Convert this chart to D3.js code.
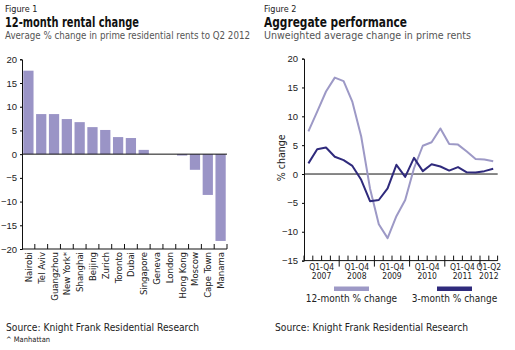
<!DOCTYPE html>
<html>
<head>
<meta charset="utf-8">
<script src="https://cdn.jsdelivr.net/npm/d3@7"></script>
<style>
  body { margin: 0; background: #fff; }
  svg { font-family: "DejaVu Sans Condensed", "Liberation Sans", sans-serif; }
</style>
</head>
<body>
<div id="chart-area"></div>
<script>
// DATA
// ****

let cities = ["Nairobi", "Tel Aviv", "Guangzhou", "New York*", "Shanghai", "Beijing", "Zurich", "Toronto",
  "Dubai", "Singapore", "Geneva", "London", "Hong Kong", "Moscow", "Cape Town", "Manama"]
let rentalChange = [17.6, 8.45, 8.45, 7.4, 6.75, 5.7, 5.1, 3.6, 3.4, 0.9, 0, 0, -0.3, -3.3, -8.6, -18.3]
let leftTicks = [20, 15, 10, 5, 0, -5, -10, -15, -20]

let quarters = d3.range(22)
let years = ["2007", "2008", "2009", "2010", "2011", "2012"]
let yearRanges = ["Q1-Q4", "Q1-Q4", "Q1-Q4", "Q1-Q4", "Q1-Q4", "Q1-Q2"]
let twelveMonth = [7.4, 10.8, 14.3, 16.7, 16.1, 12.5, 6.5, -2.5, -8.7, -11.1, -7.3, -4.5,
  1.0, 4.9, 5.5, 7.9, 5.2, 5.1, 3.9, 2.6, 2.5, 2.2]
let threeMonth = [1.85, 4.3, 4.6, 3.0, 2.4, 1.4, -1.0, -4.7, -4.5, -2.5, 1.6, -0.5,
  2.8, 0.5, 1.7, 1.3, 0.6, 1.2, 0.3, 0.25, 0.5, 0.9]
let rightTicks = [20, 15, 10, 5, 0, -5, -10, -15]

let barColor = "#9a94c6"
let lightLine = "#9d99c6"
let darkLine = "#2f2a7c"

let svg = d3.select("#chart-area")
  .append("svg")
    .attr("width", 515)
    .attr("height", 350)

// fixed-width text, squeezed like the narrow original type
function fitText(x, y, size, len, txt, weight, fill) {
  return svg.append("text")
    .attr("x", x).attr("y", y)
    .attr("font-size", size + "px")
    .attr("font-weight", weight || "normal")
    .attr("textLength", len)
    .attr("lengthAdjust", "spacingAndGlyphs")
    .style("fill", fill || "#222")
    .text(txt)
}

// HEADINGS
// ********

svg.append("text").attr("x", 5).attr("y", 12).attr("font-size", "9px").style("fill", "#222").text("Figure 1")
fitText(5, 27, 14.5, 134, "12-month rental change", "bold", "#111")
fitText(5, 38.5, 10.5, 245, "Average % change in prime residential rents to Q2 2012", "normal", "#555")

svg.append("text").attr("x", 264).attr("y", 12).attr("font-size", "9px").style("fill", "#222").text("Figure 2")
fitText(264, 27, 14.5, 143, "Aggregate performance", "bold", "#111")
fitText(264, 38.5, 10.5, 207, "Unweighted average change in prime rents", "normal", "#555")

// FIGURE 1 - BARS
// ***************

let x1 = d3.scaleBand().domain(cities).range([22, 227]).paddingInner(0.2).paddingOuter(0.1)
let y1 = d3.scaleLinear().domain([-20, 20]).range([249, 59.3])

let g1 = svg.append("g")

g1.selectAll("rect").data(rentalChange)
  .enter()
  .append("rect")
    .attr("x", (d, i) => x1(cities[i]))
    .attr("y", d => y1(Math.max(0, d)))
    .attr("width", x1.bandwidth())
    .attr("height", d => Math.abs(y1(d) - y1(0)))
    .attr("fill", barColor)

// left axis
let leftAxis = d3.axisLeft(y1).tickValues(leftTicks).tickSize(2).tickPadding(3)
g1.append("g")
  .attr("class", "left axis")
  .attr("transform", "translate(22, 0)")
  .call(leftAxis)
  .call(a => a.select(".domain").attr("stroke", "#111"))
  .selectAll("text").attr("font-size", "9.5px").style("fill", "#222")

// zero line
g1.append("line")
  .attr("x1", 22).attr("x2", 227)
  .attr("y1", y1(0)).attr("y2", y1(0))
  .attr("stroke", "#111")

// bottom axis with ticks between bands
g1.append("line")
  .attr("x1", 22).attr("x2", 227)
  .attr("y1", y1(-20)).attr("y2", y1(-20))
  .attr("stroke", "#111")
g1.selectAll(".btick").data(cities)
  .enter()
  .append("line")
    .attr("class", "btick")
    .attr("x1", d => x1(d) + x1.bandwidth() + x1.step() * 0.1)
    .attr("x2", d => x1(d) + x1.bandwidth() + x1.step() * 0.1)
    .attr("y1", y1(-20)).attr("y2", y1(-20) - 5)
    .attr("stroke", "#111")

g1.selectAll(".city").data(cities)
  .enter()
  .append("text")
    .attr("class", "city")
    .attr("transform", d => "translate(" + (x1(d) + x1.bandwidth() / 2 + 3.5) + "," + 252 + ") rotate(-90)")
    .attr("text-anchor", "end")
    .attr("font-size", "9.5px")
    .style("fill", "#222")
    .text(d => d)

fitText(6, 331, 11, 193, "Source: Knight Frank Residential Research")
svg.append("text").attr("x", 6).attr("y", 342).attr("font-size", "7.5px").style("fill", "#222")
  .text("^ Manhattan")

// FIGURE 2 - LINES
// ****************

let x2 = d3.scalePoint().domain(quarters).range([308.4, 493.2])
let y2 = d3.scaleLinear().domain([-15, 20]).range([260.6, 58.6])
let qStep = x2.step()

let g2 = svg.append("g")

let rightAxis = d3.axisLeft(y2).tickValues(rightTicks).tickSize(2).tickPadding(4)
g2.append("g")
  .attr("class", "left axis")
  .attr("transform", "translate(304, 0)")
  .call(rightAxis)
  .call(a => a.select(".domain").attr("stroke", "#111"))
  .selectAll("text").attr("font-size", "9.5px").style("fill", "#222")

g2.append("text")
  .attr("transform", "translate(285," + y2(2.8) + ") rotate(-90)")
  .attr("text-anchor", "middle")
  .attr("font-size", "10.5px")
  .style("fill", "#222")
  .text("% change")

g2.append("line")
  .attr("x1", 304).attr("x2", 497.7)
  .attr("y1", y2(0)).attr("y2", y2(0))
  .attr("stroke", "#111")

g2.append("line")
  .attr("x1", 304).attr("x2", 497.7)
  .attr("y1", y2(-15)).attr("y2", y2(-15))
  .attr("stroke", "#111")

// quarter ticks, year boundaries drop below the axis
g2.selectAll(".qtick").data(d3.range(23))
  .enter()
  .append("line")
    .attr("class", "qtick")
    .attr("x1", k => 304 + k * qStep)
    .attr("x2", k => 304 + k * qStep)
    .attr("y1", y2(-15) - 5)
    .attr("y2", k => (k % 4 === 0 && k > 0 && k < 22) ? y2(-15) + 6 : y2(-15))
    .attr("stroke", "#111")

let line = d3.line()
  .x((d, i) => x2(quarters[i]))
  .y(d => y2(d))

g2.append("path")
  .attr("d", line(twelveMonth))
  .attr("fill", "none")
  .attr("stroke", lightLine)
  .attr("stroke-width", 2)
  .attr("stroke-linejoin", "round")

g2.append("path")
  .attr("d", line(threeMonth))
  .attr("fill", "none")
  .attr("stroke", darkLine)
  .attr("stroke-width", 2)
  .attr("stroke-linejoin", "round")

// year labels
let yearX = i => 304 + (i * 4 + Math.min(4, 22 - i * 4) / 2) * qStep
g2.selectAll(".qrange").data(years)
  .enter()
  .append("text")
    .attr("class", "qrange")
    .attr("x", (d, i) => yearX(i))
    .attr("y", 269.5)
    .attr("text-anchor", "middle")
    .attr("font-size", "8.5px")
    .style("fill", "#222")
    .text((d, i) => yearRanges[i])
g2.selectAll(".year").data(years)
  .enter()
  .append("text")
    .attr("class", "year")
    .attr("x", (d, i) => yearX(i))
    .attr("y", 279)
    .attr("text-anchor", "middle")
    .attr("font-size", "8.5px")
    .style("fill", "#222")
    .text(d => d)

// legend
let legend = [["12-month % change", lightLine, 351.5], ["3-month % change", darkLine, 454.5]]
legend.forEach(l => {
  g2.append("rect").attr("x", l[2] - 17.5).attr("y", 286.5).attr("width", 35).attr("height", 4.5).attr("fill", l[1])
  g2.append("text").attr("x", l[2]).attr("y", 302).attr("text-anchor", "middle")
    .attr("font-size", "10px").style("fill", "#222").text(l[0])
})

fitText(275, 331, 11, 193, "Source: Knight Frank Residential Research")
</script>
</body>
</html>
